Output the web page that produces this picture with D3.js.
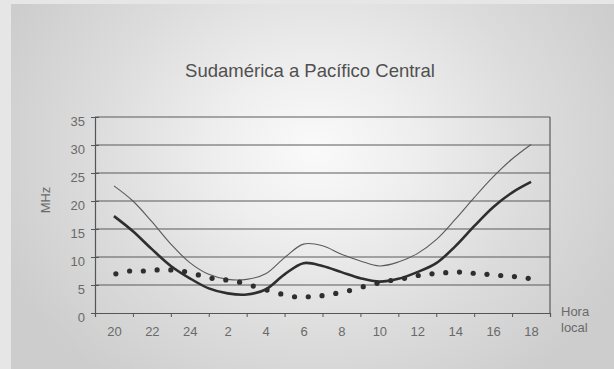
<!DOCTYPE html>
<html><head><meta charset="utf-8">
<script src="https://cdn.jsdelivr.net/npm/d3@7"></script>
<style>
html,body{margin:0;padding:0;background:#e4e4e4;}
svg{display:block;}
text{font-family:"Liberation Sans",Arial,sans-serif;}
</style></head>
<body>
<script>
// ---- data ----
const title = "Sudamérica a Pacífico Central";
const yLabel = "MHz";
const xLabelLines = ["Hora", "local"];
const hourLabels = ["20","22","24","2","4","6","8","10","12","14","16","18"];
const labelHours = [0,2,4,6,8,10,12,14,16,18,20,22];
const boundaryHours = [-1,1,3,5,7,9,11,13,15,17,19,21,23];
const hours = [0,1,2,3,4,5,6,7,8,9,10,11,12,13,14,15,16,17,18,19,20,21,22];
const upperSeries = [22.7,20.0,16.3,12.3,9.0,6.9,6.0,6.0,7.0,9.9,12.3,12.0,10.5,9.3,8.4,9.1,10.6,13.1,16.7,20.6,24.3,27.5,30.1];
const middleSeries = [17.3,14.6,11.4,8.4,6.2,4.4,3.5,3.3,4.2,6.9,8.9,8.4,7.3,6.2,5.6,6.1,7.3,8.9,11.9,15.5,18.9,21.5,23.4];
const dotSeries = [7.0,7.5,7.5,7.7,7.7,7.4,6.8,6.2,5.9,5.5,4.8,4.1,3.4,2.9,2.9,3.1,3.5,4.0,4.7,5.3,5.8,6.2,6.7,7.0,7.2,7.3,7.1,6.9,6.7,6.5,6.2];
const yTicks = [0,5,10,15,20,25,30,35];

// ---- drawing ----
const W = 614, H = 369;
const svg = d3.select("body").append("svg").attr("width", W).attr("height", H);
const defs = svg.append("defs");
const grad = defs.append("radialGradient").attr("id","bg")
  .attr("gradientUnits","userSpaceOnUse").attr("cx",315).attr("cy",150).attr("r",340)
  .attr("gradientTransform","translate(315,150) scale(1,0.85) translate(-315,-150)");
grad.append("stop").attr("offset",0).attr("stop-color","#fafafa");
grad.append("stop").attr("offset",0.3).attr("stop-color","#eeeeee");
grad.append("stop").attr("offset",0.65).attr("stop-color","#dcdcdc");
grad.append("stop").attr("offset",1).attr("stop-color","#cdcdcd");

svg.append("rect").attr("x",0).attr("y",0).attr("width",W).attr("height",H).attr("fill","#e6e6e6");
svg.append("rect").attr("x",11).attr("y",4).attr("width",W-11).attr("height",H-4).attr("fill","url(#bg)");

const x = d3.scaleLinear().domain([-1, 23]).range([95, 550]);
const y = d3.scaleLinear().domain([0, 35]).range([313, 117]);

// gridlines
svg.append("g").selectAll("line").data(yTicks.slice(1)).join("line")
  .attr("x1", x(-1)).attr("x2", x(23)).attr("y1", d => y(d)).attr("y2", d => y(d))
  .attr("stroke", "#5a5a5a").attr("stroke-width", 1.2);
// right border
svg.append("line").attr("x1", x(23)).attr("x2", x(23)).attr("y1", y(35)).attr("y2", y(0))
  .attr("stroke", "#5a5a5a").attr("stroke-width", 1.2);

// y axis
const yAxis = svg.append("g").attr("transform", `translate(${x(-1)},0)`)
  .call(d3.axisLeft(y).tickValues(yTicks).tickSize(4).tickPadding(6));
yAxis.select(".domain").attr("stroke","#555").attr("stroke-width",1.2);
yAxis.selectAll(".tick line").attr("stroke","#555").attr("x2",-4).attr("x1",4);
yAxis.selectAll(".tick text").attr("fill","#6a6a6a").attr("font-size",13)
  .attr("font-family","Liberation Sans, Arial, sans-serif").attr("dy","0.65em");

// x axis: tick marks at boundaries
const xAxisTicks = svg.append("g").attr("transform", `translate(0,${y(0)})`)
  .call(d3.axisBottom(x).tickValues(boundaryHours).tickSize(4).tickFormat(""));
xAxisTicks.select(".domain").attr("stroke","#555").attr("stroke-width",1.2);
xAxisTicks.selectAll(".tick line").attr("stroke","#555");
// x axis labels centered between tick marks
const labelMap = new Map(labelHours.map((h,i) => [h, hourLabels[i]]));
const xAxisLabels = svg.append("g").attr("transform", `translate(0,${y(0)})`)
  .call(d3.axisBottom(x).tickValues(labelHours).tickSize(0).tickPadding(14).tickFormat(d => labelMap.get(d)));
xAxisLabels.select(".domain").remove();
xAxisLabels.selectAll(".tick text").attr("fill","#6a6a6a").attr("font-size",13)
  .attr("font-family","Liberation Sans, Arial, sans-serif");

// axis titles
svg.append("text").attr("transform", `translate(50,200) rotate(-90)`)
  .attr("text-anchor","middle").attr("font-size",13).attr("fill","#6a6a6a").text(yLabel);
svg.append("text").attr("x",561).attr("y",316).attr("font-size",13).attr("fill","#6a6a6a").text(xLabelLines[0]);
svg.append("text").attr("x",561).attr("y",332).attr("font-size",13).attr("fill","#6a6a6a").text(xLabelLines[1]);

// title
svg.append("text").attr("x",310).attr("y",77).attr("text-anchor","middle")
  .attr("font-size",18.5).attr("fill","#505050").text(title);

// lines
const line = d3.line().x((d,i) => x(hours[i])).y(d => y(d)).curve(d3.curveCatmullRom.alpha(0.5));
svg.append("path").datum(upperSeries).attr("d", line)
  .attr("fill","none").attr("stroke","#5a5a5a").attr("stroke-width",1.1);
svg.append("path").datum(middleSeries).attr("d", line)
  .attr("fill","none").attr("stroke","#2e2e2e").attr("stroke-width",2.6);

// dots
const xd = d3.scalePoint().domain(d3.range(dotSeries.length)).range([x(0.1), x(21.85)]);
svg.append("g").selectAll("circle").data(dotSeries).join("circle")
  .attr("cx", (d,i) => xd(i)).attr("cy", d => y(d)).attr("r", 2.6).attr("fill","#2e2e2e");
</script>
</body></html>
